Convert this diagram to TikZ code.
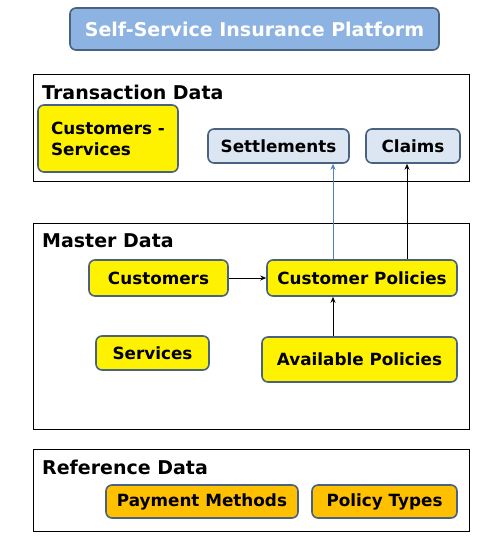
\documentclass[tikz,border=0pt]{standalone}
\usepackage{fontspec}
\setmainfont{DejaVu Sans}
\usetikzlibrary{arrows.meta}
\definecolor{boxline}{RGB}{72,98,128}
\definecolor{headfill}{RGB}{141,179,226}
\definecolor{tranfill}{RGB}{220,230,242}
\definecolor{refill}{RGB}{255,192,0}
\definecolor{linkblue}{RGB}{79,129,189}
\begin{document}
\begin{tikzpicture}[x=1pt,y=-1pt,
  panel/.style={draw, line width=0.8pt, anchor=north west, inner sep=0pt},
  paneltitle/.style={anchor=west, inner sep=0pt, font=\fontsize{19}{22}\selectfont\bfseries},
  box/.style={draw=boxline, line width=1.6pt, rounded corners=6pt, inner sep=0pt,
    font=\fontsize{16.8}{21}\selectfont\bfseries},
  ybox/.style={box, fill=yellow},
  tbox/.style={box, fill=tranfill},
  rbox/.style={box, fill=refill},
  link/.style={-{Stealth[length=6pt,width=5pt]}, line width=0.8pt}]
\useasboundingbox (0,0) rectangle (495,538);

\node[box, fill=headfill, text=white, minimum width=369pt, minimum height=42pt,
  font=\fontsize{19}{22}\selectfont\bfseries] (head) at (254.5,29) {Self-Service Insurance Platform};

\node[panel, minimum width=436pt, minimum height=107pt] (tran) at (33,74) {};
\node[paneltitle] (tranlbl) at (42,92) {Transaction Data};
\node[ybox, minimum width=140pt, minimum height=67pt, align=left] (custserv) at (108,138.5) {Customers -\\Services};
\node[tbox, minimum width=141pt, minimum height=34pt] (settle) at (278.5,146) {Settlements};
\node[tbox, minimum width=94pt, minimum height=34pt] (claims) at (413,146) {Claims};

\node[panel, minimum width=436pt, minimum height=206pt] (master) at (33,223) {};
\node[paneltitle] (masterlbl) at (42,241) {Master Data};
\node[ybox, minimum width=139pt, minimum height=36pt] (cust) at (158.5,278) {Customers};
\node[ybox, minimum width=190pt, minimum height=36pt] (custpol) at (362,278) {Customer Policies};
\node[ybox, minimum width=113pt, minimum height=34pt] (serv) at (152.5,353) {Services};
\node[ybox, minimum width=195pt, minimum height=45pt] (avail) at (359.5,359.5) {Available Policies};

\node[panel, minimum width=436pt, minimum height=82pt] (ref) at (33,449) {};
\node[paneltitle] (reflbl) at (42,467) {Reference Data};
\node[rbox, minimum width=192pt, minimum height=33pt] (pay) at (202,501.5) {Payment Methods};
\node[rbox, minimum width=145pt, minimum height=33pt] (ptype) at (384.5,501.5) {Policy Types};

\coordinate (upa) at (333,0);
\coordinate (upb) at (407,0);
\draw[link] (cust) -- (custpol);
\draw[link] (avail.north -| upa) -- (custpol.south -| upa);
\draw[link, linkblue] (custpol.north -| upa) -- (settle.south -| upa);
\draw[link] (custpol.north -| upb) -- (claims.south -| upb);

\end{tikzpicture}
\end{document}
